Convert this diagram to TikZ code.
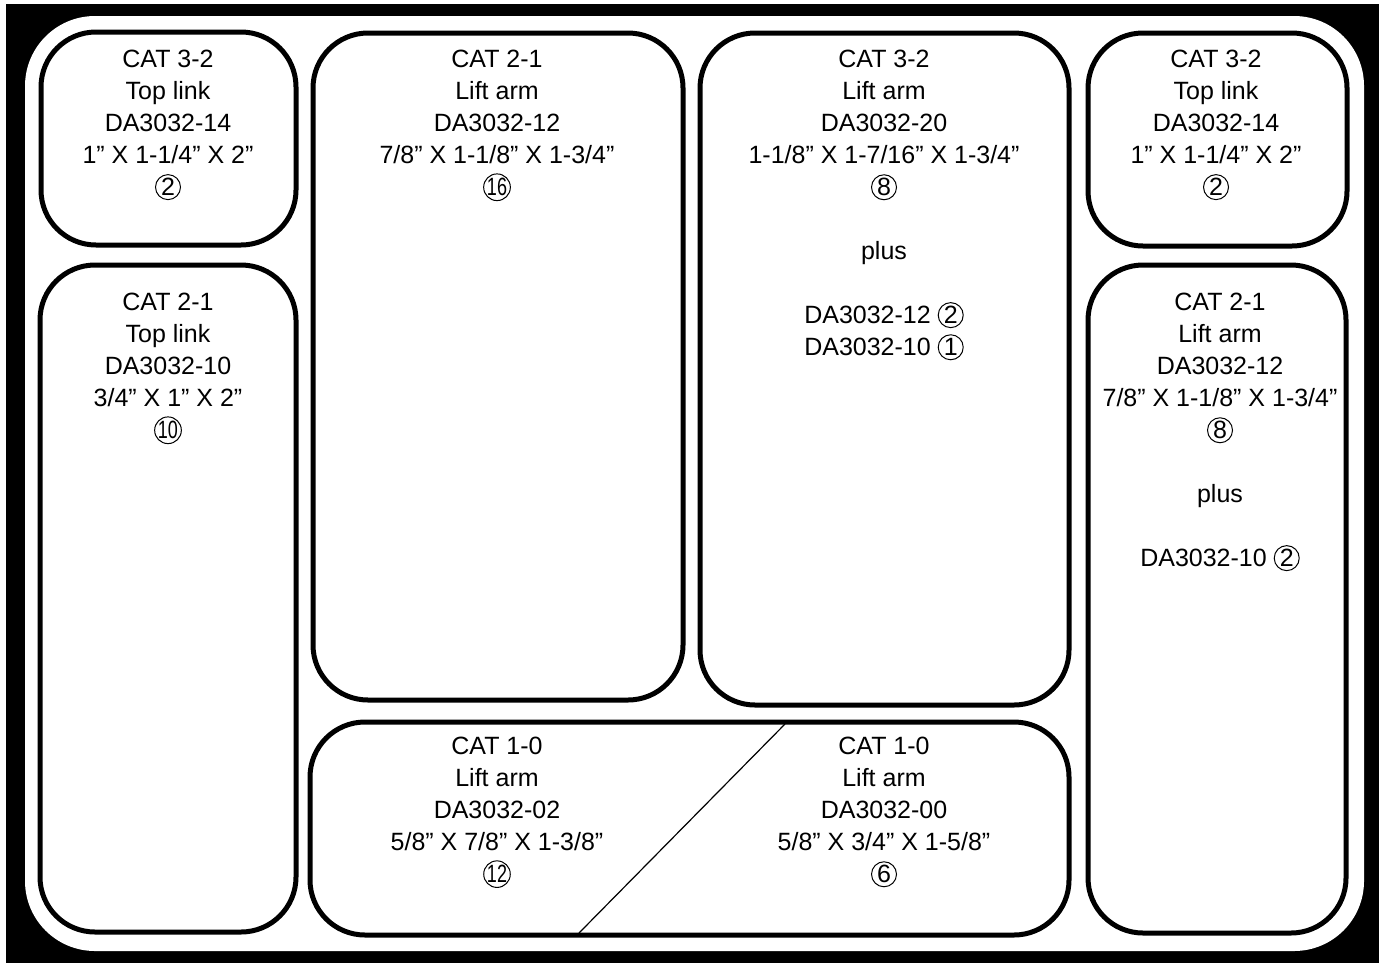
\documentclass[tikz,border=0pt]{standalone}
\usepackage{fontspec}
\setmainfont{Liberation Sans}
\usepackage{graphicx}
\newcommand\cnum[1]{\tikz[baseline=(cn.base)]\node[draw,circle,anchor=center,inner sep=0pt,minimum size=12.5pt,line width=0.5pt] (cn) {#1};}
\newcommand\cnumw[1]{\cnum{\scalebox{0.72}[1]{#1}}}
\begin{document}
\begin{tikzpicture}[x=0.5pt,y=-0.5pt,
		bin/.style={draw, line width=2.5pt, rounded corners=27.5pt},
		bintext/.style={anchor=north, align=center, inner sep=0pt, font=\fontsize{12.5}{16}\selectfont}]
		\useasboundingbox (0,0) rectangle (1384,964);
		\fill[black] (6,4) rectangle (1379,963);
		\fill[white, rounded corners=35pt] (25,16) rectangle (1364,951);
		\draw[bin] (41,32) rectangle (296,245);
		\draw[bin] (40,265) rectangle (296,932);
		\draw[bin] (313,33) rectangle (683,700);
		\draw[bin] (700,33) rectangle (1069,705);
		\draw[bin] (1088,33) rectangle (1347,246);
		\draw[bin] (1088,265) rectangle (1346,933);
		\draw[bin] (310,722) rectangle (1069,935);
		\draw[line width=0.6pt] (785,724) -- (579,933);
		\node[bintext] (toplinkL) at (168,50) {CAT 3-2\\Top link\\DA3032-14\\1” X 1-1/4” X 2”\\\cnum{2}};
		\node[bintext] (toplinkS) at (168,293) {CAT 2-1\\Top link\\DA3032-10\\3/4” X 1” X 2”\\\cnumw{10}};
		\node[bintext] (liftarmM) at (497,50) {CAT 2-1\\Lift arm\\DA3032-12\\7/8” X 1-1/8” X 1-3/4”\\\cnumw{16}};
		\node[bintext] (liftarmL) at (884,50) {CAT 3-2\\Lift arm\\DA3032-20\\1-1/8” X 1-7/16” X 1-3/4”\\\cnum{8}\\[16pt]plus\\[16pt]DA3032-12 \cnum{2}\\DA3032-10 \cnum{1}};
		\node[bintext] (toplinkR) at (1216,50) {CAT 3-2\\Top link\\DA3032-14\\1” X 1-1/4” X 2”\\\cnum{2}};
		\node[bintext] (liftarmR) at (1220,293) {CAT 2-1\\Lift arm\\DA3032-12\\7/8” X 1-1/8” X 1-3/4”\\\cnum{8}\\[16pt]plus\\[16pt]DA3032-10 \cnum{2}};
		\node[bintext] (liftarmS) at (497,737) {CAT 1-0\\Lift arm\\DA3032-02\\5/8” X 7/8” X 1-3/8”\\\cnumw{12}};
		\node[bintext] (liftarmT) at (884,737) {CAT 1-0\\Lift arm\\DA3032-00\\5/8” X 3/4” X 1-5/8”\\\cnum{6}};
\end{tikzpicture}
\end{document}
